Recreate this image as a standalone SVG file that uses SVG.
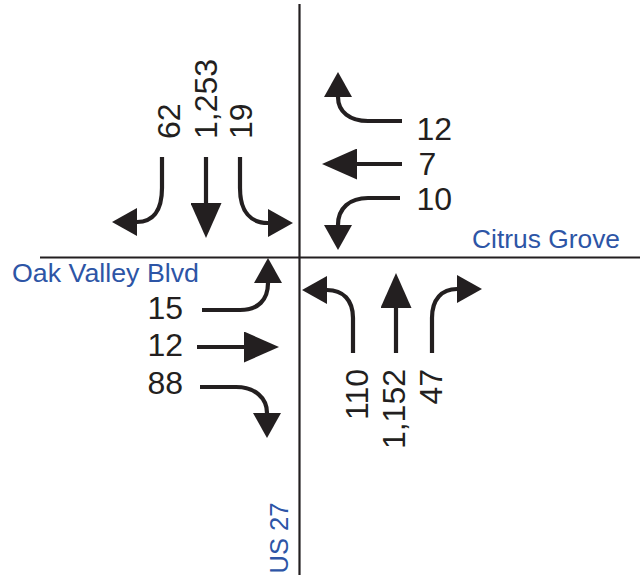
<svg xmlns="http://www.w3.org/2000/svg" width="640" height="579" viewBox="0 0 640 579">
  <style>
    .road { stroke: #231f20; stroke-width: 2.2; fill: none; }
    .mv { stroke: #231f20; stroke-width: 4.2; fill: none; }
    .vol { font-family: "Liberation Sans", Arial, sans-serif; font-size: 32px; fill: #231f20; }
    .street { font-family: "Liberation Sans", Arial, sans-serif; font-size: 25.5px; fill: #2d55a6; }
  </style>
  <defs>
    <!-- long head for through movements -->
    <marker id="headLong" viewBox="0 -15.5 35 31" markerWidth="35" markerHeight="31" refX="0" refY="0" orient="auto" markerUnits="userSpaceOnUse">
      <path d="M0,-15.5 L35,0 L0,15.5 Z" fill="#231f20"/>
    </marker>
    <!-- short head for turning movements -->
    <marker id="headShort" viewBox="0 -14 25 28" markerWidth="25" markerHeight="28" refX="0" refY="0" orient="auto" markerUnits="userSpaceOnUse">
      <path d="M0,-14 L25,0 L0,14 Z" fill="#231f20"/>
    </marker>
  </defs>

  <!-- street centrelines -->
  <g id="roads">
    <line class="road" x1="299.5" y1="4" x2="299.5" y2="575"/>
    <line class="road" x1="40" y1="257.5" x2="640" y2="257.5"/>
  </g>

  <!-- turning movement arrows -->
  <g id="connectors">
    <!-- southbound -->
    <path class="mv" d="M162,157 V188 C162,212 152,222 137,222" marker-end="url(#headShort)"/>
    <path class="mv" d="M206,157 V203" marker-end="url(#headLong)"/>
    <path class="mv" d="M240,157 V188 C240,212 251,223 268,223" marker-end="url(#headShort)"/>
    <!-- westbound -->
    <path class="mv" d="M402,121 H368 C350,121 338,112 338,97" marker-end="url(#headShort)"/>
    <path class="mv" d="M402,164 H357" marker-end="url(#headLong)"/>
    <path class="mv" d="M400,198 H368 C350,198 338,208 338,225" marker-end="url(#headShort)"/>
    <!-- eastbound -->
    <path class="mv" d="M202,310 H240 C258,310 268,300 268,283" marker-end="url(#headShort)"/>
    <path class="mv" d="M197,347 H244" marker-end="url(#headLong)"/>
    <path class="mv" d="M200,387 H236 C255,387 267,398 267,413" marker-end="url(#headShort)"/>
    <!-- northbound -->
    <path class="mv" d="M353,353 V318 C353,300 343,290 327,290" marker-end="url(#headShort)"/>
    <path class="mv" d="M396,353 V308" marker-end="url(#headLong)"/>
    <path class="mv" d="M432,353 V318 C432,299 442,289 457,289" marker-end="url(#headShort)"/>
  </g>

  <!-- southbound volumes -->
  <g id="sb-right"><text class="vol" transform="translate(180,139) rotate(-90)">62</text></g>
  <g id="sb-thru"><text class="vol" transform="translate(217,139) rotate(-90)">1,253</text></g>
  <g id="sb-left"><text class="vol" transform="translate(252,139) rotate(-90)">19</text></g>

  <!-- westbound volumes -->
  <g id="wb-right"><text class="vol" x="416.5" y="140">12</text></g>
  <g id="wb-thru"><text class="vol" x="418.5" y="175">7</text></g>
  <g id="wb-left"><text class="vol" x="416.5" y="210">10</text></g>

  <!-- eastbound volumes -->
  <g id="eb-left"><text class="vol" x="183" y="319" text-anchor="end">15</text></g>
  <g id="eb-thru"><text class="vol" x="183" y="356" text-anchor="end">12</text></g>
  <g id="eb-right"><text class="vol" x="183" y="394" text-anchor="end">88</text></g>

  <!-- northbound volumes -->
  <g id="nb-left"><text class="vol" text-anchor="end" transform="translate(368,369) rotate(-90)">110</text></g>
  <g id="nb-thru"><text class="vol" text-anchor="end" transform="translate(405,369) rotate(-90)">1,152</text></g>
  <g id="nb-right"><text class="vol" text-anchor="end" transform="translate(442,369) rotate(-90)">47</text></g>

  <!-- street names -->
  <g id="citrus-grove"><text class="street" x="620" y="248" text-anchor="end" textLength="148" lengthAdjust="spacingAndGlyphs">Citrus Grove</text></g>
  <g id="oak-valley"><text class="street" x="12" y="282" textLength="187" lengthAdjust="spacingAndGlyphs">Oak Valley Blvd</text></g>
  <g id="us-27"><text class="street" text-anchor="middle" transform="translate(288,538) rotate(-90)" textLength="71" lengthAdjust="spacingAndGlyphs">US 27</text></g>
</svg>
